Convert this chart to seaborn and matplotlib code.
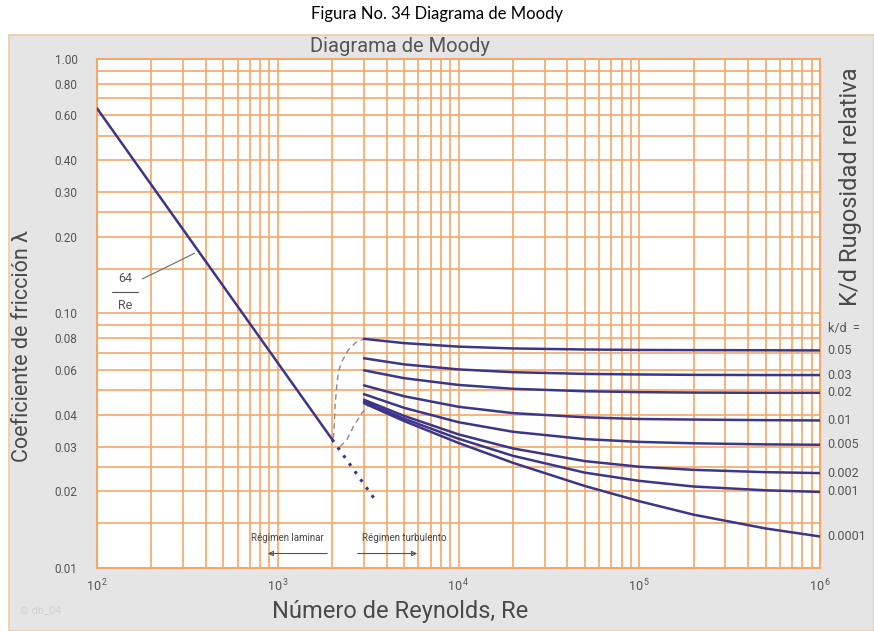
import numpy as np
import pandas as pd
import matplotlib
matplotlib.use("Agg")
import matplotlib.pyplot as plt
import seaborn as sns
from matplotlib.patches import Rectangle

# ---------------- data ----------------
re_lam = [100, 2000]
f_lam = [0.64, 0.032]
re_lam_ext = [2000, 3500]
f_lam_ext = [0.032, 0.0183]

re_turb = [3000, 5000, 10000, 20000, 50000, 100000, 200000, 500000, 1000000]
kd_labels = ["0.05", "0.03", "0.02", "0.01", "0.005", "0.002", "0.001", "0.0001"]
f_005 = [0.0795, 0.0765, 0.0741, 0.0729, 0.0722, 0.0719, 0.0718, 0.0717, 0.0716]
f_003 = [0.0667, 0.0631, 0.0603, 0.0588, 0.0579, 0.0576, 0.0574, 0.0573, 0.0573]
f_002 = [0.0598, 0.0557, 0.0524, 0.0506, 0.0495, 0.0491, 0.0489, 0.0488, 0.0488]
f_001 = [0.0522, 0.0473, 0.0430, 0.0406, 0.0391, 0.0385, 0.0383, 0.0381, 0.0380]
f_0005 = [0.0482, 0.0426, 0.0374, 0.0343, 0.0321, 0.0313, 0.0309, 0.0306, 0.0305]
f_0002 = [0.0458, 0.0396, 0.0335, 0.0295, 0.0263, 0.0250, 0.0243, 0.0238, 0.0236]
f_0001 = [0.0450, 0.0386, 0.0322, 0.0276, 0.0237, 0.0220, 0.0209, 0.0202, 0.0199]
f_00001 = [0.0444, 0.0378, 0.0310, 0.0259, 0.0210, 0.0183, 0.0162, 0.0143, 0.0133]
turb_series = [f_005, f_003, f_002, f_001, f_0005, f_0002, f_0001, f_00001]

# transition (dashed grey) boundaries
re_trans_a = [2029, 2056, 2074, 2119, 2163, 2258, 2457, 2734, 2974]
f_trans_a = [0.0323, 0.0370, 0.0430, 0.0516, 0.0590, 0.0646, 0.0719, 0.0775, 0.0792]
re_trans_b = [2211, 2407, 2618, 2913, 3170]
f_trans_b = [0.0300, 0.0318, 0.0359, 0.0405, 0.0433]

y_ticks = [1.0, 0.8, 0.6, 0.4, 0.3, 0.2, 0.1, 0.08, 0.06, 0.04, 0.03, 0.02, 0.01]
y_grid = [1.0, 0.9, 0.8, 0.7, 0.6, 0.5, 0.4, 0.3, 0.25, 0.2, 0.15, 0.1, 0.09, 0.08,
          0.07, 0.06, 0.05, 0.04, 0.03, 0.025, 0.02, 0.015, 0.01]
x_ticks = [1e2, 1e3, 1e4, 1e5, 1e6]
x_tick_labels = [r"$\mathregular{10^{\,2}}$", r"$\mathregular{10^{\,3}}$",
                 r"$\mathregular{10^{\,4}}$", r"$\mathregular{10^{\,5}}$",
                 r"$\mathregular{10^{\,6}}$"]
x_grid = [m * 10 ** d for d in range(2, 6) for m in range(1, 10)] + [1e6]

# ---------------- style ----------------
sns.set_theme(style="white")
plt.rcParams["font.family"] = ["Roboto", "DejaVu Sans"]
plt.rcParams["mathtext.fontset"] = "custom"
plt.rcParams["mathtext.rm"] = "Roboto"

ORANGE = "#f3a86a"
BLUE = "#3b3689"
GREY_TXT = "#555555"

fig = plt.figure(figsize=(8.74, 6.31), dpi=100)
fig.patch.set_facecolor("white")

# grey panel behind the chart
panel = Rectangle((9 / 874, 0), 1 - 9 / 874, 1 - 35 / 631, transform=fig.transFigure,
                  facecolor="#e5e5e5", edgecolor="#f0c9a6", linewidth=1.2, zorder=-10)
fig.patches.append(panel)

fig.text(0.5, 1 - 14 / 631, "Figura No. 34 Diagrama de Moody", ha="center", va="center",
         fontsize=12, color="black", family=["Lato", "DejaVu Sans"])

ax = fig.add_axes([97 / 874, 1 - 568 / 631, (820 - 97) / 874, (568 - 59) / 631])
ax.set_facecolor("white")
ax.set_xscale("log")
ax.set_yscale("log")

# laminar
sns.lineplot(x=re_lam, y=f_lam, ax=ax, color=BLUE, linewidth=1.8, zorder=5)
ax.plot(re_lam_ext, f_lam_ext, color=BLUE, linewidth=2.2, linestyle=(0, (1, 2.2)), zorder=5)

# transition dashed lines
ax.plot(re_trans_a, f_trans_a, color="#8a8a8a", linewidth=1.0, linestyle=(0, (4, 3)), zorder=4)
ax.plot(re_trans_b, f_trans_b, color="#8a8a8a", linewidth=1.0, linestyle=(0, (4, 3)), zorder=4)

# turbulent curves
rows = []
for lab, ser in zip(kd_labels, turb_series):
    for r, f in zip(re_turb, ser):
        rows.append({"Re": r, "f": f, "kd": lab})
df = pd.DataFrame(rows)
sns.lineplot(data=df, x="Re", y="f", hue="kd", palette=[BLUE] * len(kd_labels),
             linewidth=1.8, ax=ax, legend=False, zorder=5, sort=True)

ax.set_xlim(1e2, 1e6)
ax.set_ylim(0.01, 1.0)

# grid
ax.set_xticks(x_grid, minor=True)
ax.set_yticks(y_grid, minor=True)
ax.set_xticks(x_ticks)
ax.set_xticklabels(x_tick_labels)
ax.set_yticks(y_ticks)
ax.set_yticklabels([f"{v:.2f}" for v in y_ticks])
ax.xaxis.set_minor_formatter(matplotlib.ticker.NullFormatter())
ax.yaxis.set_minor_formatter(matplotlib.ticker.NullFormatter())
ax.grid(True, which="both", color=ORANGE, linewidth=1.2, zorder=1)
ax.set_axisbelow(True)
ax.tick_params(which="both", length=0)
ax.tick_params(axis="y", pad=14, labelsize=8.5, labelcolor=GREY_TXT)
ax.tick_params(axis="x", pad=7, labelsize=9, labelcolor=GREY_TXT)
for s in ax.spines.values():
    s.set_color(ORANGE)
    s.set_linewidth(1.5)

ax.set_xlabel("Número de Reynolds, Re", fontsize=17, color="#4a4a4a")
ax.xaxis.set_label_coords((400 - 97) / (820 - 97), -(600 - 568) / (568 - 59))
ax.set_ylabel("Coeficiente de fricción λ", fontsize=15.5, color="#4a4a4a")
ax.yaxis.set_label_coords(-(97 - 33) / (820 - 97), (568 - 346) / (568 - 59))
fig.text(400 / 874, 1 - 47 / 631, "Diagrama de Moody", ha="center", va="center",
         fontsize=14.5, color=GREY_TXT)

# right labels
for lab, ser in zip(kd_labels, turb_series):
    ax.annotate(lab, xy=(1e6, ser[-1]), xytext=(5, 0), textcoords="offset points",
                va="center", ha="left", fontsize=9, color=GREY_TXT, annotation_clip=False)
ax.annotate("k/d  =", xy=(1e6, 0.087), xytext=(6, 0), textcoords="offset points",
            va="center", ha="left", fontsize=9, color=GREY_TXT, annotation_clip=False)
fig.text(850 / 874, 1 - 187 / 631, "K/d Rugosidad relativa", rotation=90, ha="center",
         va="center", fontsize=17, color="#4a4a4a")

# 64/Re label
ax.annotate("", xy=(357, 0.1743), xytext=(173, 0.1353),
            arrowprops=dict(arrowstyle="-", color="#777777", lw=0.9))
ax.text(143, 0.137, "64", ha="center", va="center", fontsize=9, color=GREY_TXT)
ax.text(143, 0.1075, "Re", ha="center", va="center", fontsize=9, color=GREY_TXT)
ax.plot([121, 169], [0.1215, 0.1215], color=GREY_TXT, linewidth=0.8)

# regime labels
ax.text(1125, 0.0131, "Régimen laminar", ha="center", va="center", fontsize=7, color="#444444")
ax.text(5000, 0.0131, "Régimen turbulento", ha="center", va="center", fontsize=7, color="#444444")
ax.annotate("", xy=(850, 0.0114), xytext=(1945, 0.0114),
            arrowprops=dict(arrowstyle="-|>", color="#555555", lw=0.8, fill=False,
                            mutation_scale=8))
ax.annotate("", xy=(6120, 0.0114), xytext=(2673, 0.0114),
            arrowprops=dict(arrowstyle="-|>", color="#555555", lw=0.8, fill=False,
                            mutation_scale=8))

fig.text(20 / 874, 1 - 610 / 631, "© db_04", fontsize=8, color="#d2d2d2", va="center")

fig.savefig("out.png", dpi=100)
